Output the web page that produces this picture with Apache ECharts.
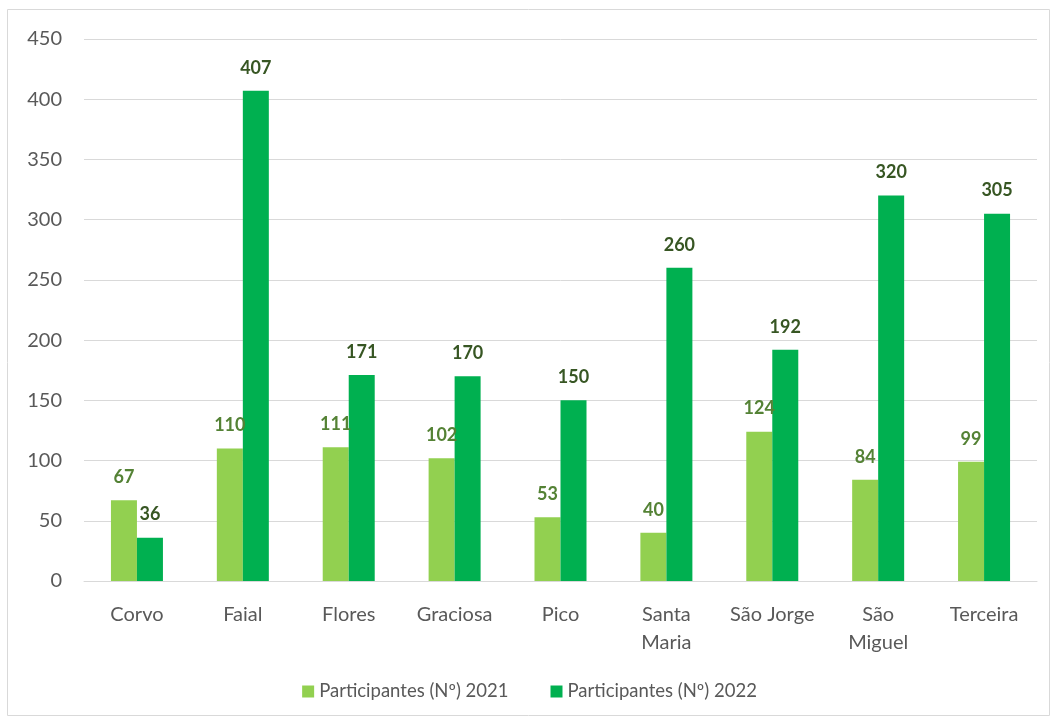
<!DOCTYPE html>
<html>
<head>
<meta charset="utf-8">
<script src="https://cdn.jsdelivr.net/npm/echarts@6/dist/echarts.min.js"></script>
<style>
  html, body { margin: 0; padding: 0; background: #fff; }
  #chart { width: 1059px; height: 720px; }
</style>
</head>
<body>
<div id="chart"></div>
<script>
// ilhas
const islands = ['Corvo', 'Faial', 'Flores', 'Graciosa', 'Pico', 'Santa\nMaria', 'São Jorge', 'São\nMiguel', 'Terceira'];
const participants2021 = [67, 110, 111, 102, 53, 40, 124, 84, 99];
const participants2022 = [36, 407, 171, 170, 150, 260, 192, 320, 305];
const yTicks = [0, 50, 100, 150, 200, 250, 300, 350, 400, 450];

const chart = echarts.init(document.getElementById('chart'));
const font = 'Lato, "Open Sans", sans-serif';

chart.setOption({
    animation: false,
    textStyle: { fontFamily: font },
    graphic: [{
        type: 'rect',
        shape: { x: 7.5, y: 9.5, width: 1042, height: 706 },
        style: { fill: 'none', stroke: '#d9d9d9', lineWidth: 1 }
    }],
    legend: {
        bottom: 14,
        left: 'center',
        itemWidth: 12,
        itemHeight: 12,
        itemGap: 42,
        icon: 'rect',
        textStyle: { color: '#595959', fontSize: 18.5, fontFamily: font }
    },
    grid: { left: 84, right: 22, top: 39, bottom: 139, containLabel: false },
    xAxis: {
        type: 'category',
        data: islands,
        axisLine: { lineStyle: { color: '#d9d9d9', width: 1 } },
        axisTick: { show: false },
        axisLabel: { interval: 0, color: '#595959', fontSize: 20, margin: 20, lineHeight: 28, fontFamily: font }
    },
    yAxis: {
        type: 'value',
        min: yTicks[0],
        max: yTicks[yTicks.length - 1],
        interval: 50,
        axisLine: { show: false },
        axisTick: { show: false },
        splitLine: { lineStyle: { color: '#d9d9d9', width: 1 } },
        axisLabel: { color: '#595959', fontSize: 20, margin: 22, fontFamily: font }
    },
    series: [
        {
            name: 'Participantes (Nº) 2021',
            type: 'bar',
            data: participants2021,
            barWidth: 26,
            barGap: '0%',
            itemStyle: { color: '#92d050' },
            label: {
                show: true, position: 'top', distance: 14,
                color: '#548235', fontSize: 18, fontWeight: 'bold', fontFamily: font
            }
        },
        {
            name: 'Participantes (Nº) 2022',
            type: 'bar',
            data: participants2022,
            barWidth: 26,
            itemStyle: { color: '#00b050' },
            label: {
                show: true, position: 'top', distance: 14,
                color: '#375623', fontSize: 18, fontWeight: 'bold', fontFamily: font
            }
        }
    ]
});
</script>
</body>
</html>
